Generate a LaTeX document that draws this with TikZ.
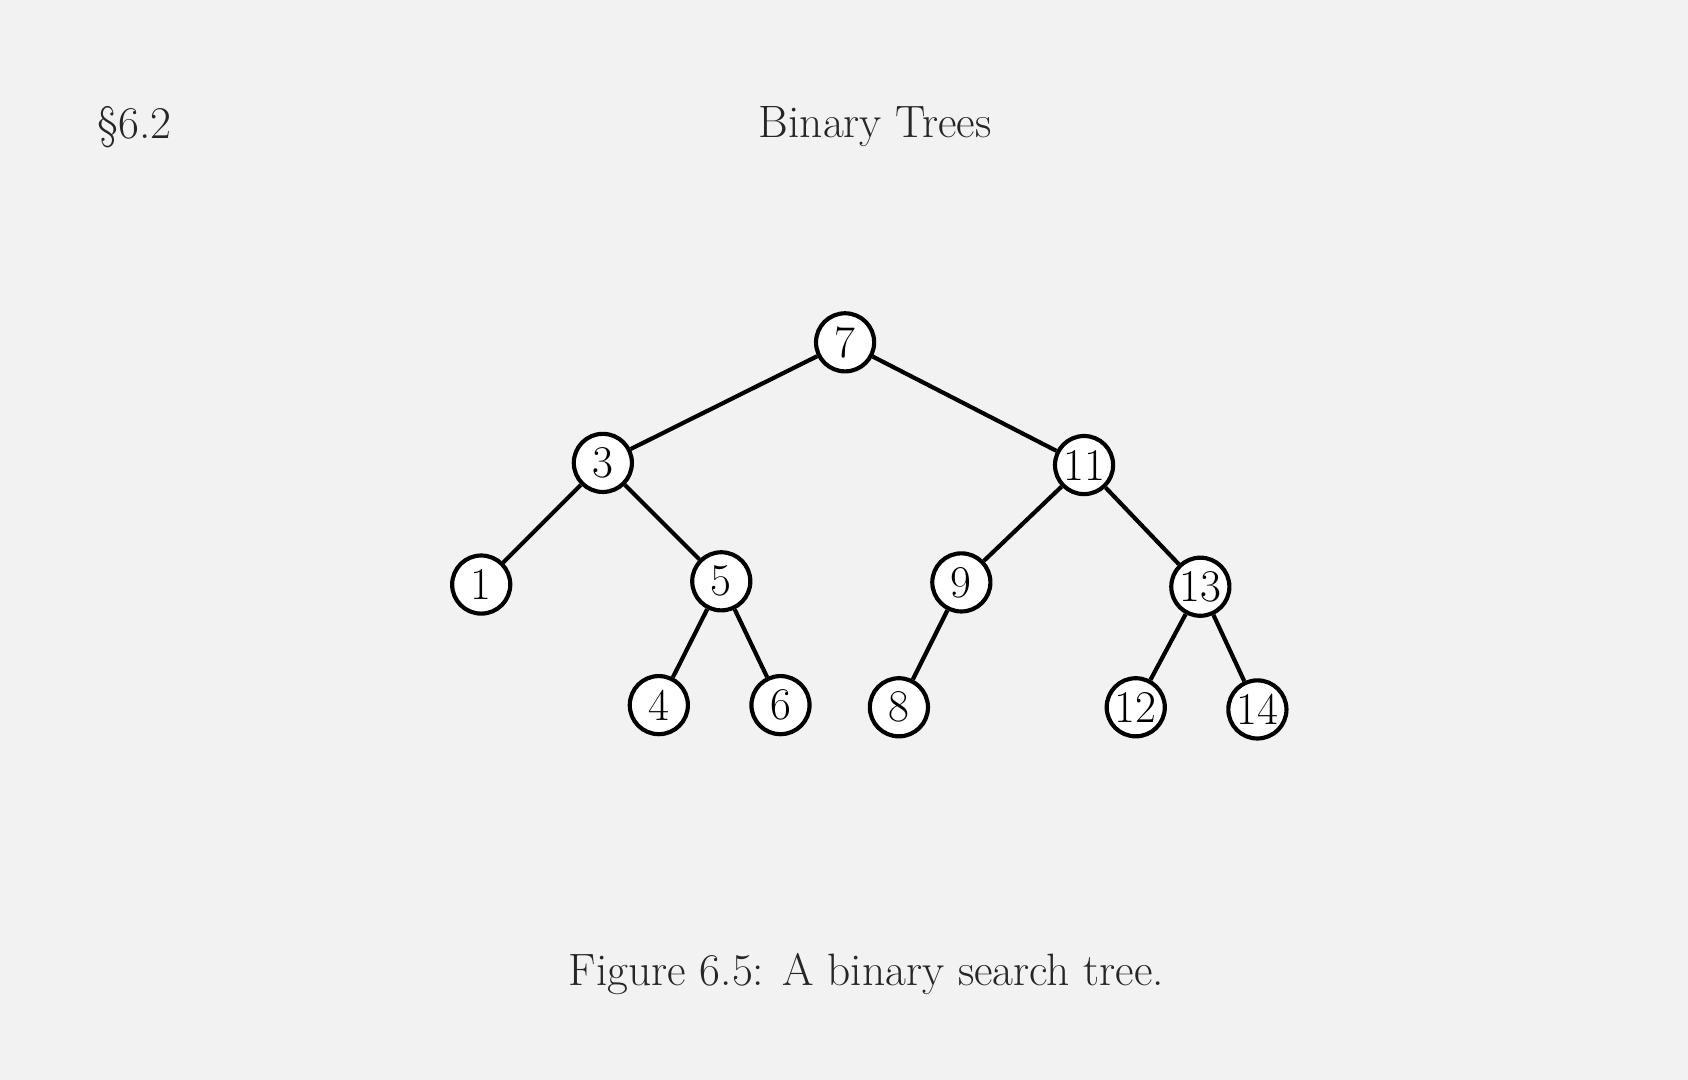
\documentclass[tikz,border=0pt]{standalone}
\usetikzlibrary{positioning}
\begin{document}
\begin{tikzpicture}[
    x=0.02cm, y=-0.02cm,
    treenode/.style={circle, draw, line width=2.2pt, fill=white, minimum size=1.08cm, inner sep=0pt, font=\fontsize{24}{26}\selectfont},
    edge/.style={draw, line width=2.2pt},
    pagetext/.style={font=\fontsize{24}{28}\selectfont, text=black!85}
]
% Page
\fill[gray!10] (0,0) rectangle (1568,1003);

% Header and caption
\node[pagetext] (sect) at (125,118) {\S6.2};
\node[pagetext] (title) at (813,118) {Binary Trees};
\node[pagetext] (caption) at (805,905) {Figure 6.5: A binary search tree.};

% Tree nodes
\node[treenode] (n7) at (785,318) {7};
\node[treenode] (n3) at (560,430) {3};
\node[treenode] (n11) at (1007,432) {11};
\node[treenode] (n1) at (447,543) {1};
\node[treenode] (n5) at (670,540) {5};
\node[treenode] (n9) at (893,541) {9};
\node[treenode] (n13) at (1115,545) {13};
\node[treenode] (n4) at (612,655) {4};
\node[treenode] (n6) at (725,655) {6};
\node[treenode] (n8) at (835,657) {8};
\node[treenode] (n12) at (1055,657) {12};
\node[treenode] (n14) at (1168,659) {14};

% Edges
\foreach \a/\b in {n7/n3, n7/n11, n3/n1, n3/n5, n11/n9, n11/n13, n5/n4, n5/n6, n9/n8, n13/n12, n13/n14}
    \draw[edge] (\a) -- (\b);
\end{tikzpicture}
\end{document}
